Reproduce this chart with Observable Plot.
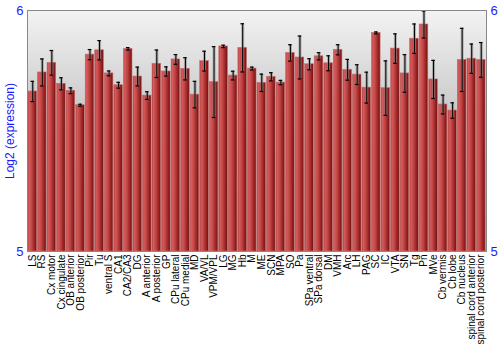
<!DOCTYPE html>
<html>
<head>
<meta charset="utf-8">
<script src="https://cdn.jsdelivr.net/npm/d3@7"></script>
<script src="https://cdn.jsdelivr.net/npm/@observablehq/plot@0.6"></script>
<style>
  html, body { margin: 0; padding: 0; background: #fff; }
</style>
</head>
<body>
<div id="chart"></div>
<script>
const names = ["LS","RS","Cx motor","Cx cingulate","OB anterior","OB posterior","Pir","Tu","ventral S","CA1","CA2/CA3","DG","A anterior","A posterior","GP","CPu lateral","CPu medial","MD","VA/VL","VPM/VPL","LG","MG","Hb","M","ME","SCN","MPA","SO","Pa","SPa ventral","SPa dorsal","DM","VMH","Arc","LH","PAG","SC","IC","VTA","SN","Tg","Pn","MVe","Cb vermis","Cb lobe","Cb nucleus","spinal cord anterior","spinal cord posterior"];
const values = [5.664,5.743,5.783,5.696,5.667,5.607,5.817,5.835,5.739,5.690,5.841,5.726,5.647,5.779,5.747,5.797,5.758,5.651,5.790,5.703,5.851,5.730,5.845,5.759,5.700,5.725,5.701,5.824,5.805,5.777,5.810,5.781,5.837,5.754,5.734,5.680,5.907,5.678,5.842,5.739,5.883,5.942,5.714,5.610,5.585,5.795,5.800,5.795];
const errors = [0.042,0.056,0.051,0.025,0.012,0.004,0.021,0.040,0.010,0.012,0.005,0.039,0.016,0.057,0.019,0.020,0.046,0.055,0.041,0.147,0.005,0.018,0.100,0.006,0.036,0.017,0.009,0.034,0.089,0.023,0.015,0.031,0.021,0.043,0.041,0.064,0.004,0.113,0.061,0.078,0.061,0.056,0.079,0.039,0.032,0.131,0.061,0.072];
const yTicks = [5, 6];
const yTitle = "Log2 (expression)";

const data = names.map((n, i) => ({name: n, value: values[i], lo: values[i] - errors[i], hi: values[i] + errors[i]}));

const blue = "#1a1aff";

const svg = Plot.plot({
  width: 500,
  height: 350,
  marginLeft: 27,
  marginRight: 14,
  marginTop: 10,
  marginBottom: 99,
  style: {fontFamily: "Arial, 'Liberation Sans', sans-serif", background: "#fff"},
  x: {domain: names, padding: 0.1, round: false, label: null},
  y: {domain: [5, 6], label: null},
  marks: [
    Plot.frame({fill: "url(#bgGrad)", stroke: "none"}),
    Plot.barY(data, {x: "name", y1: 5, y2: "value", fill: "url(#barGrad)", stroke: "#c97070", strokeWidth: 0.6}),
    Plot.ruleX(data, {x: "name", y1: "lo", y2: "hi", stroke: "#888", strokeOpacity: 0.6, strokeWidth: 3}),
    Plot.ruleX(data, {x: "name", y1: "lo", y2: "hi", stroke: "#000", strokeWidth: 1}),
    Plot.tickY(data, {x: "name", y: "lo", stroke: "#000", strokeWidth: 1.2, insetLeft: 2.5, insetRight: 2.5}),
    Plot.tickY(data, {x: "name", y: "hi", stroke: "#000", strokeWidth: 1.2, insetLeft: 2.5, insetRight: 2.5}),
    Plot.frame({stroke: "#888", strokeWidth: 1, fill: "none"}),
    Plot.axisY({anchor: "left", ticks: yTicks, tickFormat: d3.format("d"), tickSize: 0, tickPadding: 4, fontSize: 13, fill: blue, label: null}),
    Plot.axisY({anchor: "right", ticks: yTicks, tickFormat: d3.format("d"), tickSize: 0, tickPadding: 4, fontSize: 13, fill: blue, label: null}),
    Plot.axisX({anchor: "bottom", tickRotate: -90, tickSize: 0, tickPadding: 3, fontSize: 10, fill: "#000", label: null}),
    Plot.text([yTitle], {frameAnchor: "left", dx: -17, rotate: -90, text: d => d, fill: blue, fontSize: 12, textAnchor: "middle"})
  ]
});

const defs = d3.select(svg).insert("defs", ":first-child");
const bg = defs.append("linearGradient").attr("id", "bgGrad").attr("x1", 0).attr("y1", 0).attr("x2", 0).attr("y2", 1);
bg.append("stop").attr("offset", "0%").attr("stop-color", "#f3f3f3");
bg.append("stop").attr("offset", "45%").attr("stop-color", "#c6c6c6");
bg.append("stop").attr("offset", "100%").attr("stop-color", "#aaaaaa");
const bar = defs.append("linearGradient").attr("id", "barGrad").attr("x1", 0).attr("y1", 0).attr("x2", 1).attr("y2", 0);
bar.append("stop").attr("offset", "0%").attr("stop-color", "#a83636");
bar.append("stop").attr("offset", "15%").attr("stop-color", "#d65c5c");
bar.append("stop").attr("offset", "45%").attr("stop-color", "#c04444");
bar.append("stop").attr("offset", "80%").attr("stop-color", "#951f1f");
bar.append("stop").attr("offset", "100%").attr("stop-color", "#6e1010");

document.getElementById("chart").appendChild(svg);
</script>
</body>
</html>
